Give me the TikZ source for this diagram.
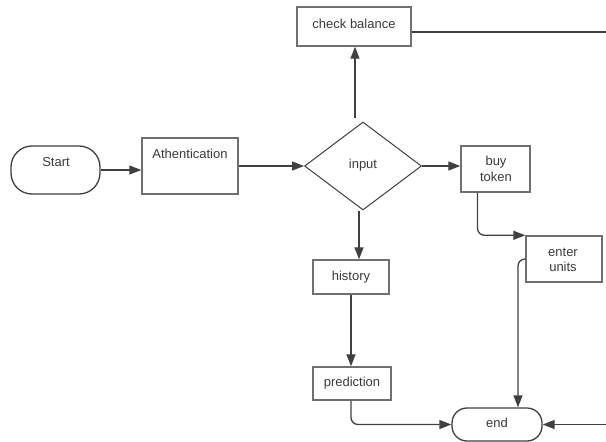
\documentclass[tikz,border=0pt]{standalone}
\usepackage{fontspec}
\setmainfont{Liberation Sans}
\usetikzlibrary{arrows.meta,shapes.geometric}
\definecolor{boxgray}{HTML}{707070}
\definecolor{linegray}{HTML}{404040}
\definecolor{txtgray}{HTML}{3A3A3A}
\tikzset{
  box/.style={draw=boxgray,line width=1.4pt,fill=white,inner sep=0pt},
  term/.style={draw=linegray,line width=1.3pt,fill=white,inner sep=0pt},
  dia/.style={draw=linegray,line width=1pt,diamond,inner sep=0pt,aspect=1.35,minimum width=117pt,minimum height=88pt},
  txt/.style={text=txtgray,font=\fontsize{13}{15.5}\selectfont,align=center,inner sep=0pt},
  conn/.style={draw=linegray,line width=1.3pt,-{Triangle[length=12pt,width=9pt]}},
  plain/.style={draw=linegray,line width=1.3pt}
}
\begin{document}
\begin{tikzpicture}[x=1pt,y=-1pt]
\useasboundingbox (0,0) rectangle (606,442);
% shapes
\node[term,rounded corners=21pt,minimum width=89pt,minimum height=48pt] (start) at (55.5,170) {};
\node[txt] (startt) at (56,162.5) {Start};
\node[box,minimum width=96pt,minimum height=56pt] (auth) at (190,166) {};
\node[txt] (autht) at (190,154) {Athentication};
\node[dia] (input) at (363,166) {};
\node[txt] (inputt) at (363,165) {input};
\node[box,minimum width=114pt,minimum height=39pt] (cb) at (354,26.5) {};
\node[txt] (cbt) at (354,24) {check balance};
\node[box,minimum width=69pt,minimum height=46pt] (buy) at (495.5,169) {};
\node[txt] (buyt) at (496,169) {buy\\token};
\node[box,minimum width=76pt,minimum height=46pt] (enter) at (564,259) {};
\node[txt] (entert) at (563,260) {enter\\units};
\node[box,minimum width=76pt,minimum height=34pt] (hist) at (351,277) {};
\node[txt] (histt) at (351,277) {history};
\node[box,minimum width=78pt,minimum height=33pt] (pred) at (352,383.5) {};
\node[txt] (predt) at (352,383) {prediction};
\node[term,rounded corners=15pt,minimum width=90pt,minimum height=33pt] (end) at (497,424.5) {};
\node[txt] (endt) at (497,423) {end};
\coordinate (cbout) at (606,32);
\coordinate (endin) at (606,424.5);
% connectors
\draw[conn] (start.east) -- (start.east -| auth.west);
\draw[conn] (auth.east) -- (auth.east -| input.west);
\draw[conn] ([xshift=-8pt,yshift=4pt]input.north) -- ([xshift=-8pt]input.north |- cb.south);
\draw[plain] (cb.east |- cbout) -- (cbout);
\draw[conn] (input.east) -- (input.east -| buy.west);
\draw[conn,rounded corners=7pt] ([xshift=-18pt]buy.south) |- (enter.north west);
\draw[conn,rounded corners=7pt] (enter.west) -| ([xshift=21pt]end.north);
\draw[conn] ([xshift=-4pt]input.south) -- ([xshift=-4pt]input.south |- hist.north);
\draw[conn] (hist.south) -- (hist.south |- pred.north);
\draw[conn,rounded corners=7pt] ([xshift=-1pt]pred.south) |- (end.west);
\draw[conn] (endin) -- (end.east);
\end{tikzpicture}
\end{document}
